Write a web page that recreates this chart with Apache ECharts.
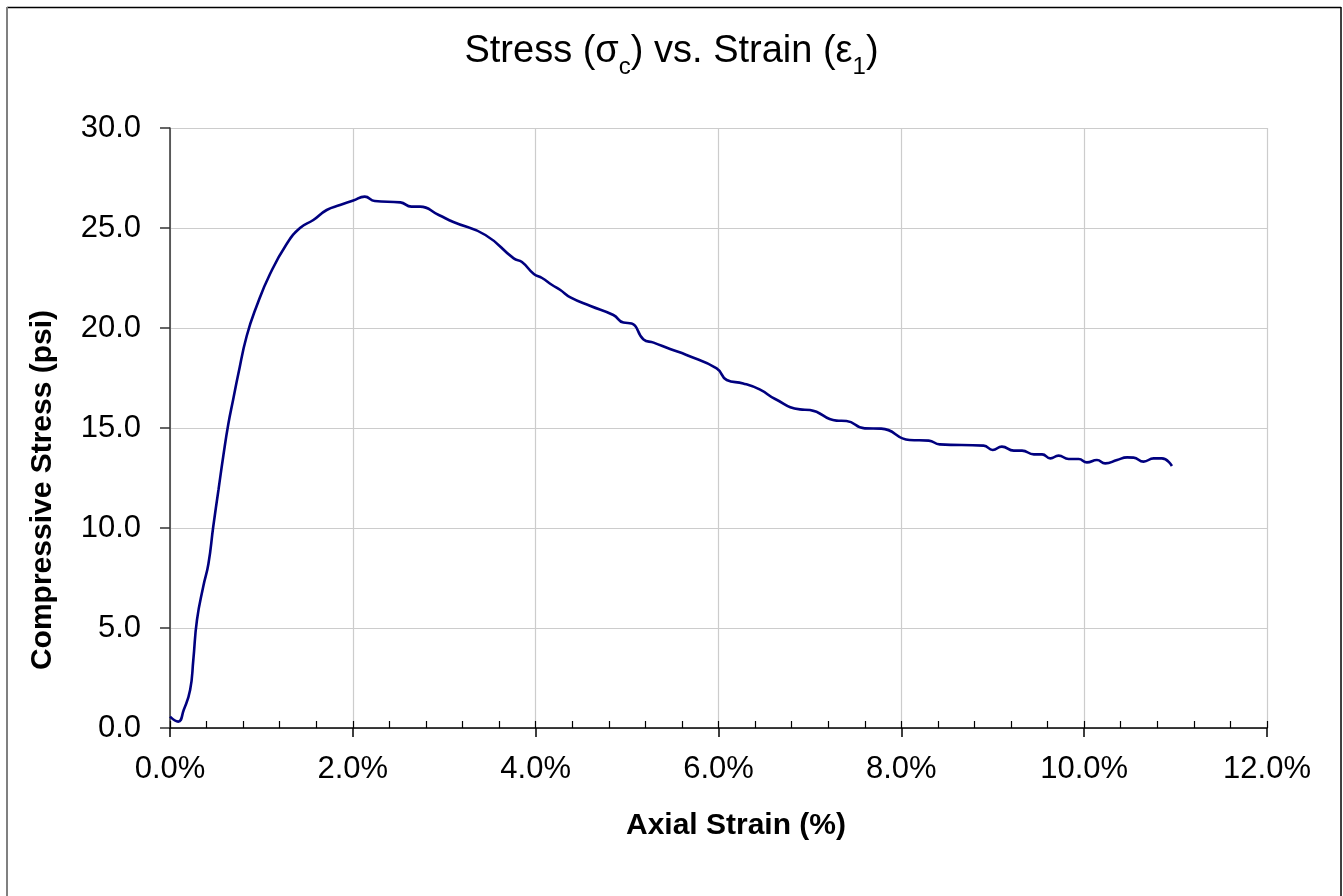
<!DOCTYPE html>
<html>
<head>
<meta charset="utf-8">
<script src="https://cdn.jsdelivr.net/npm/echarts@6/dist/echarts.min.js"></script>
<style>
html,body{margin:0;padding:0;background:#fff;}
#chart{width:1343px;height:896px;}
</style>
</head>
<body>
<div id="chart"></div>
<script>
// Axial strain (%) and compressive stress (psi)
const strain = [0.00, 0.09, 0.15, 0.22, 0.255, 0.295, 0.365, 0.42, 0.474, 0.53, 0.583, 0.638, 0.69, 0.747, 0.839, 0.948, 1.094, 1.276, 1.422, 1.568, 1.714, 1.86, 2.005, 2.13, 2.24, 2.52, 2.64, 2.735, 2.94, 3.1, 3.45, 3.76, 3.85, 3.98, 4.07, 4.18, 4.27, 4.38, 4.6, 4.85, 4.96, 5.05, 5.18, 5.29, 5.47, 5.65, 5.98, 6.09, 6.27, 6.45, 6.62, 6.89, 7.0, 7.29, 7.4, 7.6, 7.78, 8.09, 8.3, 8.42, 8.9, 9.0, 9.1, 9.23, 9.32, 9.45, 9.54, 9.63, 9.72, 9.83, 9.94, 10.03, 10.14, 10.23, 10.36, 10.47, 10.54, 10.65, 10.76, 10.85, 10.96];
const stress = [0.57, 0.32, 0.9, 1.9, 3.4, 5.4, 7.1, 8.2, 10.1, 11.9, 13.6, 15.2, 16.4, 17.7, 19.6, 21.1, 22.7, 24.2, 25.0, 25.4, 25.9, 26.15, 26.37, 26.57, 26.35, 26.28, 26.07, 26.07, 25.65, 25.3, 24.65, 23.48, 23.3, 22.7, 22.5, 22.15, 21.9, 21.53, 21.1, 20.65, 20.27, 20.23, 19.43, 19.27, 18.95, 18.65, 17.98, 17.4, 17.23, 16.93, 16.45, 15.93, 15.9, 15.37, 15.35, 14.98, 14.97, 14.4, 14.37, 14.18, 14.12, 13.9, 14.07, 13.87, 13.87, 13.68, 13.68, 13.48, 13.62, 13.45, 13.45, 13.28, 13.4, 13.23, 13.4, 13.53, 13.52, 13.32, 13.48, 13.48, 13.1];

const titleMain1 = 'Stress (σ';
const titleSub1 = 'c';
const titleMain2 = ') vs. Strain (ε';
const titleSub2 = '1';
const titleMain3 = ')';
const xName = 'Axial Strain (%)';
const yName = 'Compressive Stress (psi)';

const FONT = '"Liberation Sans", Arial, sans-serif';
const seriesData = strain.map((s, i) => [s, stress[i]]);

const chart = echarts.init(document.getElementById('chart'), null, {renderer: 'canvas'});
chart.setOption({
  backgroundColor: '#fff',
  animation: false,
  title: {
    left: 'center',
    top: 24,
    padding: 0,
    text: '{m|' + titleMain1 + '}{s|' + titleSub1 + '}{m|' + titleMain2 + '}{s|' + titleSub2 + '}{m|' + titleMain3 + '}',
    textStyle: {
      fontFamily: FONT,
      fontWeight: 'normal',
      color: '#000',
      rich: {
        m: {fontSize: 38, fontFamily: FONT, color: '#000', lineHeight: 55, verticalAlign: 'middle'},
        s: {fontSize: 24, fontFamily: FONT, color: '#000', lineHeight: 24, verticalAlign: 'bottom'}
      }
    }
  },
  grid: {left: 170, top: 128, width: 1097, height: 600, containLabel: false},
  xAxis: [{
    type: 'value', min: 0, max: 12, interval: 2, position: 'bottom',
    axisLine: {show: true, lineStyle: {color: '#000', width: 1.5}},
    axisTick: {show: true, inside: false, length: 9, lineStyle: {color: '#000', width: 1.5}},
    axisLabel: {margin: 26, fontSize: 31, fontFamily: FONT, color: '#000', formatter: v => v.toFixed(1) + '%'},
    splitLine: {show: true, lineStyle: {color: '#cccccc', width: 1.2}}
  }, {
    type: 'value', min: 0, max: 12, interval: 2, position: 'bottom',
    axisLine: {show: false},
    axisTick: {show: true, inside: true, length: 7, lineStyle: {color: '#000', width: 1.2}},
    minorTick: {show: true, splitNumber: 5, length: 7, lineStyle: {color: '#000', width: 1.2}},
    axisLabel: {show: false},
    splitLine: {show: false}
  }],
  yAxis: {
    type: 'value', min: 0, max: 30, interval: 5,
    axisLine: {show: true, lineStyle: {color: '#333', width: 1.5}},
    axisTick: {show: true, inside: false, length: 10, lineStyle: {color: '#333', width: 1.5}},
    axisLabel: {margin: 29, fontSize: 31, fontFamily: FONT, color: '#000', formatter: v => v.toFixed(1)},
    splitLine: {show: true, lineStyle: {color: '#cccccc', width: 1.2}}
  },
  series: [{
    type: 'line',
    xAxisIndex: 0,
    data: seriesData,
    smooth: 0.5,
    showSymbol: false,
    lineStyle: {color: '#00007f', width: 2.6},
    z: 5
  }],
  graphic: [
    {type: 'text', x: 736, y: 826, style: {text: xName, font: 'bold 30px ' + FONT, fill: '#000', align: 'center', verticalAlign: 'middle'}},
    {type: 'text', x: 43, y: 490, rotation: Math.PI / 2, style: {text: yName, font: 'bold 30px ' + FONT, fill: '#000', align: 'center', verticalAlign: 'middle'}},
    {type: 'line', shape: {x1: 7, y1: 7.5, x2: 1341, y2: 7.5}, style: {stroke: '#000', lineWidth: 1.5}},
    {type: 'line', shape: {x1: 1341, y1: 7, x2: 1341, y2: 896}, style: {stroke: '#000', lineWidth: 1.5}},
    {type: 'line', shape: {x1: 7, y1: 7, x2: 7, y2: 896}, style: {stroke: '#808080', lineWidth: 2}}
  ]
});
</script>
</body>
</html>
